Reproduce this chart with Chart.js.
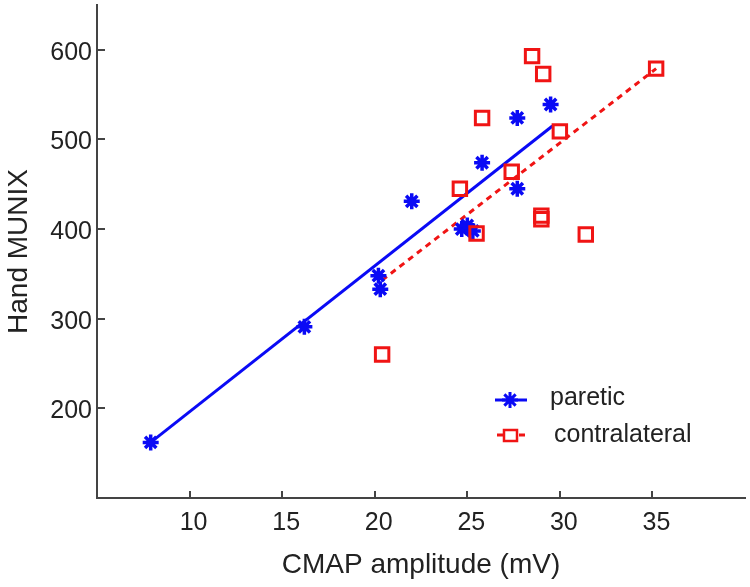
<!DOCTYPE html>
<html>
<head>
<meta charset="utf-8">
<script src="https://cdn.jsdelivr.net/npm/chart.js@4.4.1/dist/chart.umd.min.js"></script>
<style>
  body { margin: 0; background: #fff; }
  canvas { display: block; }
</style>
</head>
<body>
<canvas id="chartMunix" width="750" height="587"></canvas>
<script>
// paretic hand (blue stars)
const pareticX = [7.9, 16.2, 20.2, 20.3, 22.0, 24.7, 25.0, 25.3, 25.8, 27.7, 27.7, 29.5];
const pareticY = [162, 291, 348, 333, 431, 400, 404, 398, 474, 524, 445, 539];

// contralateral hand (red squares)
const contraX = [20.4, 24.6, 25.5, 25.8, 27.4, 29.0, 29.0, 28.5, 29.1, 30.0, 31.4, 35.2];
const contraY = [260, 445, 395, 524, 464, 415, 411, 593, 573, 509, 394, 579];

// regression lines, end points
const pareticFitX = [7.9, 29.6];
const pareticFitY = [162, 515];
const contraFitX = [20.4, 35.2];
const contraFitY = [343, 579];

const xTicks = [10, 15, 20, 25, 30, 35];
const yTicks = [200, 300, 400, 500, 600];

const legendLabels = ["paretic", "contralateral"];

const BLUE = "#0a0af5";
const RED = "#f01414";
const AXIS = "#444";
const FONT = "'Liberation Sans', Arial, sans-serif";

const toPoints = (xs, ys) => xs.map((x, i) => ({ x: x, y: ys[i] }));

// ticks drawn inward like the MATLAB axes
const innerTicks = {
  id: "innerTicks",
  afterDraw(chart) {
    const ctx = chart.ctx;
    const area = chart.chartArea;
    const sx = chart.scales.x, sy = chart.scales.y;
    ctx.save();
    ctx.strokeStyle = AXIS;
    ctx.lineWidth = 2;
    ctx.beginPath();
    xTicks.forEach(v => {
      const px = Math.round(sx.getPixelForValue(v));
      ctx.moveTo(px, area.bottom);
      ctx.lineTo(px, area.bottom - 7);
    });
    yTicks.forEach(v => {
      const py = Math.round(sy.getPixelForValue(v));
      ctx.moveTo(area.left, py);
      ctx.lineTo(area.left + 8, py);
    });
    ctx.stroke();
    ctx.restore();
  }
};

// legend box inside the axes, lower right
const innerLegend = {
  id: "innerLegend",
  afterDraw(chart) {
    const ctx = chart.ctx;
    const area = chart.chartArea;
    const x0 = area.left + 398;
    const rows = [area.top + 395, area.top + 430];
    ctx.save();

    // paretic: solid line + star
    let y = rows[0];
    ctx.strokeStyle = BLUE;
    ctx.lineWidth = 3;
    ctx.beginPath();
    ctx.moveTo(x0, y);
    ctx.lineTo(x0 + 32, y);
    ctx.stroke();
    const cx = x0 + 15, r = 8;
    ctx.lineWidth = 3;
    ctx.beginPath();
    for (let k = 0; k < 4; k++) {
      const a = k * Math.PI / 4;
      ctx.moveTo(cx - r * Math.cos(a), y - r * Math.sin(a));
      ctx.lineTo(cx + r * Math.cos(a), y + r * Math.sin(a));
    }
    ctx.stroke();

    // contralateral: dashed line + square
    y = rows[1];
    ctx.strokeStyle = RED;
    ctx.lineWidth = 3;
    ctx.setLineDash([6, 5]);
    ctx.beginPath();
    ctx.moveTo(x0 + 2, y);
    ctx.lineTo(x0 + 32, y);
    ctx.stroke();
    ctx.setLineDash([]);
    ctx.lineWidth = 2.5;
    ctx.fillStyle = "#fff";
    ctx.fillRect(x0 + 9, y - 5, 13, 11);
    ctx.strokeRect(x0 + 9, y - 5, 13, 11);

    ctx.fillStyle = "#222";
    ctx.font = "25px " + FONT;
    ctx.textBaseline = "middle";
    ctx.textAlign = "left";
    ctx.fillText(legendLabels[0], x0 + 55, rows[0] - 2);
    ctx.fillText(legendLabels[1], x0 + 59, rows[1]);
    ctx.restore();
  }
};

const config = {
  type: "scatter",
  data: {
    datasets: [
      {
        label: "paretic fit",
        data: toPoints(pareticFitX, pareticFitY),
        showLine: true,
        borderColor: BLUE,
        borderWidth: 3,
        pointRadius: 0,
        order: 3,
      },
      {
        label: "contralateral fit",
        data: toPoints(contraFitX, contraFitY),
        showLine: true,
        borderColor: RED,
        borderWidth: 3,
        borderDash: [6, 5],
        pointRadius: 0,
        order: 3,
      },
      {
        label: legendLabels[0],
        data: toPoints(pareticX, pareticY),
        pointStyle: "star",
        pointRadius: 8,
        borderColor: BLUE,
        backgroundColor: BLUE,
        pointBorderWidth: 3.5,
        order: 2,
      },
      {
        label: legendLabels[1],
        data: toPoints(contraX, contraY),
        pointStyle: "rect",
        pointRadius: 9.5,
        borderColor: RED,
        backgroundColor: "rgba(255,255,255,0)",
        pointBorderWidth: 3,
        order: 1,
      },
    ],
  },
  options: {
    responsive: false,
    animation: false,
    layout: { autoPadding: false, padding: { top: 5, right: 5, left: 0, bottom: 0 } },
    plugins: {
      legend: { display: false },
      tooltip: { enabled: false },
    },
    scales: {
      x: {
        type: "linear",
        min: 5,
        max: 40,
        afterBuildTicks: s => { s.ticks = xTicks.map(v => ({ value: v })); },
        afterFit: s => { s.height = 89; s.paddingLeft = 0; s.paddingRight = 0; },
        grid: { display: false, drawTicks: false },
        border: { display: true, color: AXIS, width: 2 },
        ticks: {
          color: "#222",
          font: { family: FONT, size: 25 },
          padding: 10,
          labelOffset: 4,
          maxRotation: 0,
        },
        title: {
          display: true,
          text: "CMAP amplitude (mV)",
          color: "#222",
          font: { family: FONT, size: 28 },
          padding: { top: 0, bottom: 5 },
        },
      },
      y: {
        type: "linear",
        min: 100,
        max: 650,
        afterBuildTicks: s => { s.ticks = yTicks.map(v => ({ value: v })); },
        afterFit: s => { s.width = 97; s.paddingTop = 0; s.paddingBottom = 0; },
        grid: { display: false, drawTicks: false },
        border: { display: true, color: AXIS, width: 2 },
        ticks: {
          color: "#222",
          font: { family: FONT, size: 25 },
          padding: 5,
          labelOffset: 3,
        },
        title: {
          display: true,
          text: "Hand MUNIX",
          color: "#222",
          font: { family: FONT, size: 28 },
          padding: { top: 2, bottom: 0 },
        },
      },
    },
  },
  plugins: [innerTicks, innerLegend],
};

const chartMunix = new Chart(document.getElementById("chartMunix"), config);
</script>
</body>
</html>
